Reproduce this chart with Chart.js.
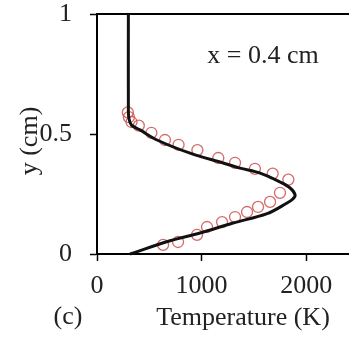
<!DOCTYPE html>
<html lang="en">
<head>
  <meta charset="UTF-8">
  <title>Temperature profile at x = 0.4 cm</title>
  <script src="https://cdn.jsdelivr.net/npm/chart.js"></script>
  <style>
    body { margin: 0; padding: 0; background: #fff; }
    canvas { display: block; }
  </style>
</head>
<body>
  <canvas id="profile-chart" width="349" height="340"></canvas>

  <script>
    // Model curve (solid black line): temperature (K) vs height y (cm)
    const lineTemp = [300, 300, 305, 330, 411, 574, 890, 1206, 1368, 1560, 1751, 1847, 1895, 1870, 1818, 1627, 1301, 986, 699, 316];
    const lineY    = [1.0, 0.6, 0.565, 0.537, 0.517, 0.475, 0.42, 0.379, 0.358, 0.337, 0.3, 0.275, 0.246, 0.228, 0.2125, 0.168, 0.129, 0.0875, 0.055, 0.0];

    // Measured points (open red circles)
    const pointTemp = [295, 305, 330, 400, 520, 650, 780, 960, 1160, 1320, 1510, 1680, 1830, 1750, 1655, 1540, 1435, 1320, 1196, 1052, 957, 775, 632];
    const pointY    = [0.59, 0.57, 0.55, 0.535, 0.505, 0.475, 0.455, 0.433, 0.40, 0.38, 0.355, 0.335, 0.31, 0.255, 0.217, 0.196, 0.175, 0.154, 0.133, 0.1125, 0.08, 0.05, 0.038];

    const xTicks = [0, 1000, 2000];
    const yTicks = [0, 0.5, 1];

    const serif = '"Liberation Serif", "DejaVu Serif", serif';

    const linePoints = lineTemp.map((t, i) => ({ x: t, y: lineY[i] }));
    const circlePoints = pointTemp.map((t, i) => ({ x: t, y: pointY[i] }));

    // Extra labels drawn on the canvas: panel letter, axis titles, annotation
    const labelPlugin = {
      id: 'labels',
      afterDraw(chart) {
        const ctx = chart.ctx;
        ctx.save();
        ctx.fillStyle = '#222';
        ctx.font = '26px ' + serif;
        ctx.textAlign = 'center';
        ctx.textBaseline = 'middle';
        ctx.fillText('x = 0.4 cm', 263, 56);
        ctx.fillText('(c)', 68, 317);
        ctx.fillText('Temperature (K)', 243, 318);
        ctx.translate(30, 141);
        ctx.rotate(-Math.PI / 2);
        ctx.fillText('y (cm)', 0, 0);
        ctx.restore();
      }
    };

    new Chart(document.getElementById('profile-chart').getContext('2d'), {
      type: 'scatter',
      data: {
        datasets: [
          {
            label: 'Model',
            data: linePoints,
            showLine: true,
            borderColor: '#111',
            borderWidth: 3,
            pointRadius: 0,
            tension: 0.35,
            clip: false
          },
          {
            label: 'Measured',
            data: circlePoints,
            showLine: false,
            pointStyle: 'circle',
            pointRadius: 5.5,
            borderWidth: 1.3,
            borderColor: 'rgba(205, 80, 80, 0.85)',
            backgroundColor: 'rgba(255, 255, 255, 0)'
          }
        ]
      },
      options: {
        responsive: false,
        animation: false,
        layout: { autoPadding: false, padding: { top: 14, right: 0, left: 0, bottom: 0 } },
        plugins: {
          legend: { display: false },
          tooltip: { enabled: false }
        },
        scales: {
          x: {
            type: 'linear',
            position: 'bottom',
            min: 0,
            max: 2410,
            afterBuildTicks: (scale) => { scale.ticks = xTicks.map(v => ({ value: v })); },
            afterFit: (scale) => { scale.height = 86; scale.paddingLeft = 0; scale.paddingRight = 0; },
            ticks: {
              font: { family: serif, size: 26 },
              color: '#222',
              padding: 10,
              maxRotation: 0,
              callback: (v) => String(v)
            },
            grid: { drawOnChartArea: false, drawTicks: true, tickLength: 7, color: '#000', tickWidth: 1.5 },
            border: { display: true, color: '#000', width: 2 }
          },
          xTop: {
            type: 'linear',
            position: 'top',
            min: 0,
            max: 2410,
            ticks: { display: false },
            grid: { display: false },
            afterFit: (scale) => { scale.height = 0; scale.paddingLeft = 0; scale.paddingRight = 0; },
            border: { display: true, color: '#000', width: 2 }
          },
          y: {
            type: 'linear',
            position: 'left',
            min: 0,
            max: 1,
            afterBuildTicks: (scale) => { scale.ticks = yTicks.map(v => ({ value: v })); },
            afterFit: (scale) => { scale.width = 97; scale.paddingTop = 0; scale.paddingBottom = 0; },
            ticks: {
              font: { family: serif, size: 26 },
              color: '#222',
              padding: 18,
              callback: (v) => String(v)
            },
            grid: { drawOnChartArea: false, drawTicks: true, tickLength: 7, color: '#000', tickWidth: 1.5 },
            border: { display: true, color: '#000', width: 2 }
          }
        }
      },
      plugins: [labelPlugin]
    });
  </script>
</body>
</html>
